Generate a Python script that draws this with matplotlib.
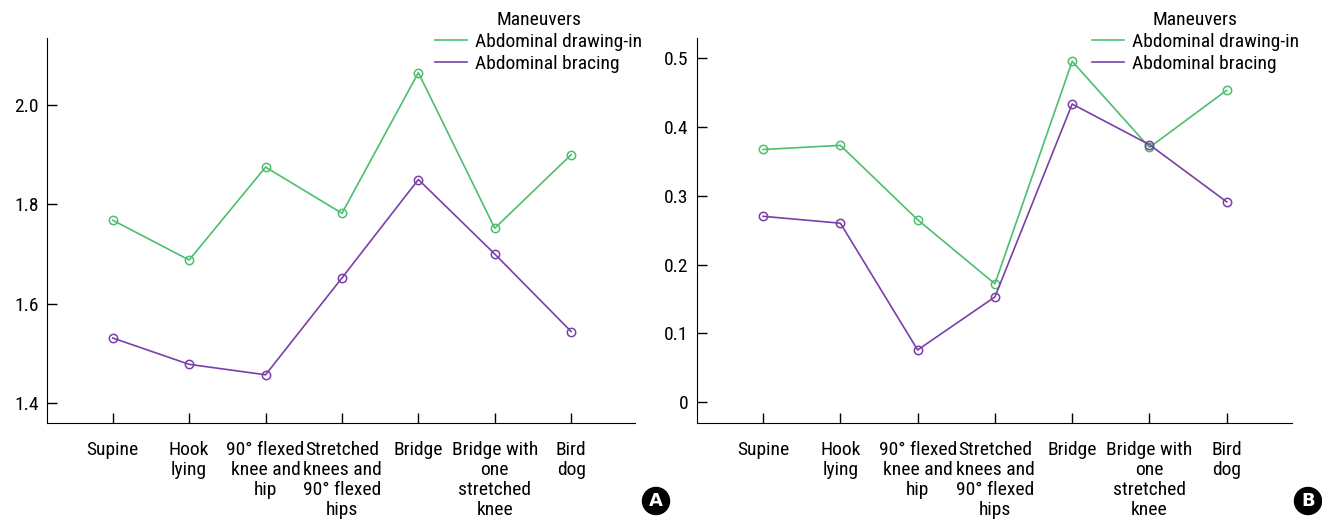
import matplotlib
matplotlib.use('Agg')
import matplotlib.pyplot as plt
from matplotlib.lines import Line2D

plt.rcParams['font.family'] = ['Roboto Condensed', 'DejaVu Sans']
fs = 14

categories = ['Supine', 'Hook\nlying', '90° flexed\nknee and\nhip',
              'Stretched\nknees and\n90° flexed\nhips', 'Bridge',
              'Bridge with\none\nstretched\nknee', 'Bird\ndog']

# panel A
drawin_A = [1.768, 1.688, 1.875, 1.782, 2.065, 1.752, 1.900]
bracing_A = [1.531, 1.478, 1.457, 1.652, 1.850, 1.700, 1.544]
# panel B
drawin_B = [0.367, 0.373, 0.265, 0.172, 0.495, 0.370, 0.453]
bracing_B = [0.270, 0.260, 0.076, 0.153, 0.433, 0.374, 0.291]

green = '#4cbf6e'
purple = '#7a3fa8'

fig = plt.figure(figsize=(13.22, 5.19), dpi=100)
axA = fig.add_axes([0.0356, 0.185, 0.445, 0.742])
axB = fig.add_axes([0.527, 0.185, 0.450, 0.742])

x = list(range(1, len(categories) + 1))


def draw(ax, g, p, ylim, yticks, yticklabels):
    ax.plot(x, g, '-', color=green, lw=1.2, marker='o', ms=6, mfc='none', mec=green, mew=1.1)
    ax.plot(x, p, '-', color=purple, lw=1.2, marker='o', ms=6, mfc='none', mec=purple, mew=1.1)
    ax.set_xlim(0.14, 7.84)
    ax.set_ylim(*ylim)
    ax.set_xticks(x)
    ax.set_xticklabels(categories, fontsize=fs, linespacing=1.15, va='top')
    ax.set_yticks(yticks)
    ax.set_yticklabels(yticklabels, fontsize=fs)
    ax.tick_params(direction='in', length=7, width=1, pad=6)
    ax.tick_params(axis='x', pad=13)
    for s in ['top', 'right']:
        ax.spines[s].set_visible(False)
    handles = [Line2D([0], [0], color=green, lw=1.2), Line2D([0], [0], color=purple, lw=1.2)]
    ax.legend(handles, ['Abdominal drawing-in', 'Abdominal bracing'], title='Maneuvers',
              loc='upper right', bbox_to_anchor=(1.025, 1.09), frameon=False,
              fontsize=fs, title_fontsize=fs, handlelength=1.65, labelspacing=0.2,
              borderaxespad=0, handletextpad=0.4)


draw(axA, drawin_A, bracing_A, (1.36, 2.135), [1.4, 1.6, 1.8, 2.0], ['1.4', '1.6', '1.8', '2.0'])
draw(axB, drawin_B, bracing_B, (-0.03, 0.529), [0, 0.1, 0.2, 0.3, 0.4, 0.5],
     ['0', '0.1', '0.2', '0.3', '0.4', '0.5'])

for xf, lab in [(656 / 1322, 'A'), (1308 / 1322, 'B')]:
    fig.text(xf, 1 - 501 / 519, lab, ha='center', va='center', color='white',
             fontsize=13, fontweight='bold', family='DejaVu Sans',
             bbox=dict(boxstyle='circle,pad=0.25', fc='black', ec='black'))

fig.savefig('out.png', dpi=100)
